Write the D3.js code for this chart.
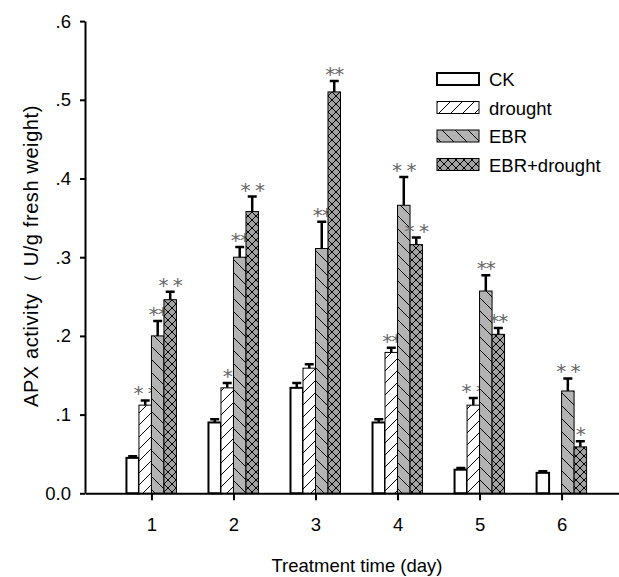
<!DOCTYPE html>
<html lang="en">
<head>
  <meta charset="UTF-8">
  <title>APX activity</title>
  <style>
    body { margin: 0; background: #fff; }
    text { font-family: "Liberation Sans", Arial, sans-serif; }
  </style>
</head>
<body>
  <svg width="619" height="577"></svg>
  <script src="https://cdn.jsdelivr.net/npm/d3@7"></script>
  <script>
    var days = [1, 2, 3, 4, 5, 6]
    var seriesNames = ['CK', 'drought', 'EBR', 'EBR+drought']
    var yTicks = [0, 0.1, 0.2, 0.3, 0.4, 0.5, 0.6]
    var yTickLabels = ['0.0', '.1', '.2', '.3', '.4', '.5', '.6']

    var ck = [0.045, 0.090, 0.134, 0.090, 0.030, 0.026]
    var ckErr = [0.002, 0.004, 0.006, 0.004, 0.002, 0.002]
    var drought = [0.112, 0.134, 0.159, 0.179, 0.112, null]
    var droughtErr = [0.006, 0.006, 0.005, 0.006, 0.009, null]
    var ebr = [0.200, 0.300, 0.311, 0.366, 0.257, 0.130]
    var ebrErr = [0.019, 0.013, 0.034, 0.036, 0.020, 0.016]
    var ebrDrought = [0.246, 0.358, 0.510, 0.316, 0.202, 0.059]
    var ebrDroughtErr = [0.010, 0.019, 0.014, 0.009, 0.008, 0.007]

    var ckSig = ['', '', '', '', '', '']
    var droughtSig = ['* *', '*', '', '**', '* *', '']
    var ebrSig = ['**', '**', '**', '* *', '**', '* *']
    var ebrDroughtSig = ['* *', '* *', '**', '* *', '**', '*']

    var series = [
      { name: seriesNames[0], values: ck, errs: ckErr, sig: ckSig, fill: '#fff' },
      { name: seriesNames[1], values: drought, errs: droughtErr, sig: droughtSig, fill: 'url(#hatchFwd)' },
      { name: seriesNames[2], values: ebr, errs: ebrErr, sig: ebrSig, fill: 'url(#hatchBack)' },
      { name: seriesNames[3], values: ebrDrought, errs: ebrDroughtErr, sig: ebrDroughtSig, fill: 'url(#hatchCross)' }
    ]

    var svg = d3.select('svg')
    var fs = '18.5px'

    var x = d3.scaleLinear().domain([0.19, 6.7]).range([85, 619])
    var y = d3.scaleLinear().domain([0, 0.6]).range([493.3, 21.1])
    var barW = 12.5

    // patterns
    var defs = svg.append('defs')
    var p1 = defs.append('pattern').attr('id', 'hatchFwd')
      .attr('patternUnits', 'userSpaceOnUse').attr('width', 12).attr('height', 12)
    p1.append('rect').attr('width', 12).attr('height', 12).attr('fill', '#fff')
    p1.append('path').attr('d', 'M-3,3 L3,-3 M0,12 L12,0 M9,15 L15,9')
      .attr('stroke', '#000').attr('stroke-width', 1)

    var p2 = defs.append('pattern').attr('id', 'hatchBack')
      .attr('patternUnits', 'userSpaceOnUse').attr('width', 13).attr('height', 13)
    p2.append('rect').attr('width', 13).attr('height', 13).attr('fill', '#b3b3b3')
    p2.append('path').attr('d', 'M-3,10 L3,16 M0,0 L13,13 M10,-3 L16,3')
      .attr('stroke', '#000').attr('stroke-width', 1)

    var p3 = defs.append('pattern').attr('id', 'hatchCross')
      .attr('patternUnits', 'userSpaceOnUse').attr('width', 8).attr('height', 8)
    p3.append('rect').attr('width', 8).attr('height', 8).attr('fill', '#a2a2a2')
    p3.append('path').attr('d', 'M0,0 L8,8 M0,8 L8,0 M-2,2 L2,-2 M6,10 L10,6 M-2,6 L2,10 M6,-2 L10,2')
      .attr('stroke', '#000').attr('stroke-width', 1)

    // bars
    series.forEach(function(s, k) {
      var g = svg.append('g')
      var pts = days.map(function(d, i) {
        return { day: d, v: s.values[i], e: s.errs[i], sig: s.sig[i] }
      }).filter(function(p) { return p.v != null })

      g.selectAll('rect.bar')
        .data(pts)
        .enter()
        .append('rect')
        .attr('class', 'bar')
        .attr('x', function(p) { return x(p.day) + (k - 2) * barW })
        .attr('y', function(p) { return y(p.v) })
        .attr('width', barW)
        .attr('height', function(p) { return y(0) - y(p.v) })
        .attr('fill', s.fill)
        .attr('stroke', '#000')
        .attr('stroke-width', k === 0 ? 2 : 1)

      // error bars
      g.selectAll('path.err')
        .data(pts)
        .enter()
        .append('path')
        .attr('d', function(p) {
          var cx = x(p.day) + (k - 1.5) * barW
          return 'M' + cx + ',' + y(p.v) + 'V' + y(p.v + p.e) +
            'M' + (cx - 4.5) + ',' + y(p.v + p.e) + 'H' + (cx + 4.5)
        })
        .attr('stroke', '#000')
        .attr('stroke-width', 2.5)
        .attr('fill', 'none')

      // significance marks
      g.selectAll('text.sig')
        .data(pts.filter(function(p) { return p.sig }))
        .enter()
        .append('text')
        .attr('x', function(p) { return x(p.day) + (k - 1.5) * barW })
        .attr('y', function(p) { return y(p.v + p.e) })
        .attr('text-anchor', 'middle')
        .style('font-family', '"DejaVu Sans", sans-serif')
        .style('font-size', '20px')
        .style('letter-spacing', '-1px')
        .attr('fill', '#666')
        .text(function(p) { return p.sig })
    })

    // axes
    var yAxis = svg.append('g')
      .attr('transform', 'translate(85,0)')
      .call(d3.axisLeft(y).tickValues(yTicks).tickSize(5).tickSizeOuter(0)
        .tickFormat(function(d, i) { return yTickLabels[i] }))
    yAxis.selectAll('text').style('font-size', fs).attr('fill', '#000').attr('x', -14)
    yAxis.selectAll('line, path').attr('stroke', '#000').attr('stroke-width', 2)

    var xAxis = svg.append('g')
      .attr('transform', 'translate(0,493.3)')
      .call(d3.axisBottom(x).tickValues(days).tickSize(7).tickSizeOuter(0)
        .tickFormat(d3.format('d')))
    xAxis.selectAll('text').style('font-size', fs).attr('fill', '#000').attr('y', 25)
    xAxis.selectAll('line, path').attr('stroke', '#000').attr('stroke-width', 2)

    svg.append('text')
      .attr('x', 357)
      .attr('y', 572)
      .attr('text-anchor', 'middle')
      .style('font-size', fs)
      .text('Treatment time (day)')

    svg.append('text')
      .attr('transform', 'translate(38,256) rotate(-90)')
      .attr('text-anchor', 'middle')
      .style('font-size', '20px')
      .style('letter-spacing', '0.6px')
      .text('APX activity（ U/g fresh weight)')

    // legend
    var legend = svg.append('g')
    series.forEach(function(s, k) {
      var ly = 73 + k * 28.5
      legend.append('rect')
        .attr('x', 437).attr('y', ly)
        .attr('width', 42).attr('height', 12)
        .attr('fill', s.fill)
        .attr('stroke', '#000')
        .attr('stroke-width', k === 0 ? 2 : 1)
      legend.append('text')
        .attr('x', 489).attr('y', ly + 13)
        .style('font-size', fs)
        .text(s.name)
    })
  </script>
</body>
</html>
